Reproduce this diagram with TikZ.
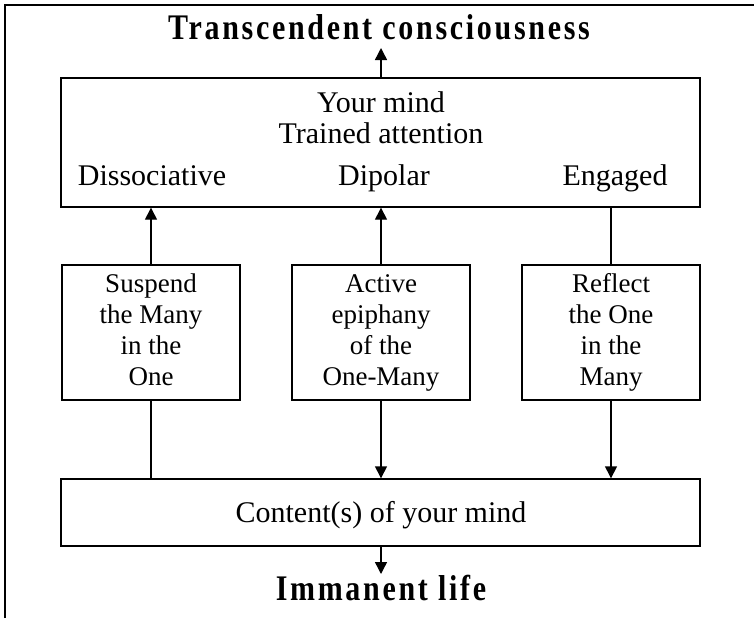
\documentclass[tikz,border=0pt]{standalone}
\usepackage{fontspec}
\usepackage{graphicx}
\setmainfont{Liberation Serif}
\newfontfamily\titlefont[LetterSpace=9]{Liberation Serif}
\usetikzlibrary{arrows.meta}
\newcommand{\tallbold}[1]{\scalebox{1}[1.2]{#1}}
\tikzset{
  box/.style={draw, line width=1.4pt, rectangle, inner sep=0pt},
  conn/.style={line width=1.4pt},
  arr/.style={line width=1.4pt, -{Triangle[length=12pt,width=12pt]}},
  bigtxt/.style={font=\fontsize{30}{34}\selectfont, inner sep=0pt, anchor=base},
  smalltxt/.style={font=\fontsize{27}{31}\selectfont, align=center},
  heading/.style={font=\fontsize{30}{34}\selectfont\titlefont\bfseries, inner sep=0pt, anchor=base}
}
\begin{document}
\begin{tikzpicture}[x=1pt,y=-1pt]
\useasboundingbox (0,0) rectangle (754,618);
% outer frame (open on right and bottom)
\draw[line width=1.8pt] (5,618) -- (5,5) -- (754,5);
% heading
\node[heading] (top) at (379,40) {\tallbold{Transcendent consciousness}};
% main box
\node[box, minimum width=639pt, minimum height=129pt] (mind) at (380.5,142.5) {};
\node[bigtxt] (t1) at (381,112) {Your mind};
\node[bigtxt] (t2) at (381,143) {Trained attention};
\node[bigtxt] (d1) at (152,185) {Dissociative};
\node[bigtxt] (d2) at (384,185) {Dipolar};
\node[bigtxt] (d3) at (615,185) {Engaged};
% small boxes
\node[box, minimum width=178pt, minimum height=135pt, smalltxt] (s1) at (151,332.5) {\strut Suspend\\\strut the Many\\\strut in the\\\strut One};
\node[box, minimum width=178pt, minimum height=135pt, smalltxt] (s2) at (381,332.5) {\strut Active\\\strut epiphany\\\strut of the\\\strut One-Many};
\node[box, minimum width=178pt, minimum height=135pt, smalltxt] (s3) at (611,332.5) {\strut Reflect\\\strut the One\\\strut in the\\\strut Many};
% bottom box
\node[box, minimum width=639pt, minimum height=67pt] (content) at (380.5,512.5) {};
\node[bigtxt] (ct) at (381,522) {Content(s) of your mind};
\node[heading] (imm) at (381,600) {\tallbold{Immanent life}};
% connectors
\draw[arr] (mind.north -| 381,0) -- (381,48);
\draw[arr] (s1.north) -- (s1.north |- mind.south);
\draw[arr] (s2.north) -- (s2.north |- mind.south);
\draw[conn] (s3.north |- mind.south) -- (s3.north);
\draw[conn] (s1.south) -- (s1.south |- content.north);
\draw[arr] (s2.south) -- (s2.south |- content.north);
\draw[arr] (s3.south) -- (s3.south |- content.north);
\draw[arr] (content.south -| 381,0) -- (381,574);
\end{tikzpicture}
\end{document}
